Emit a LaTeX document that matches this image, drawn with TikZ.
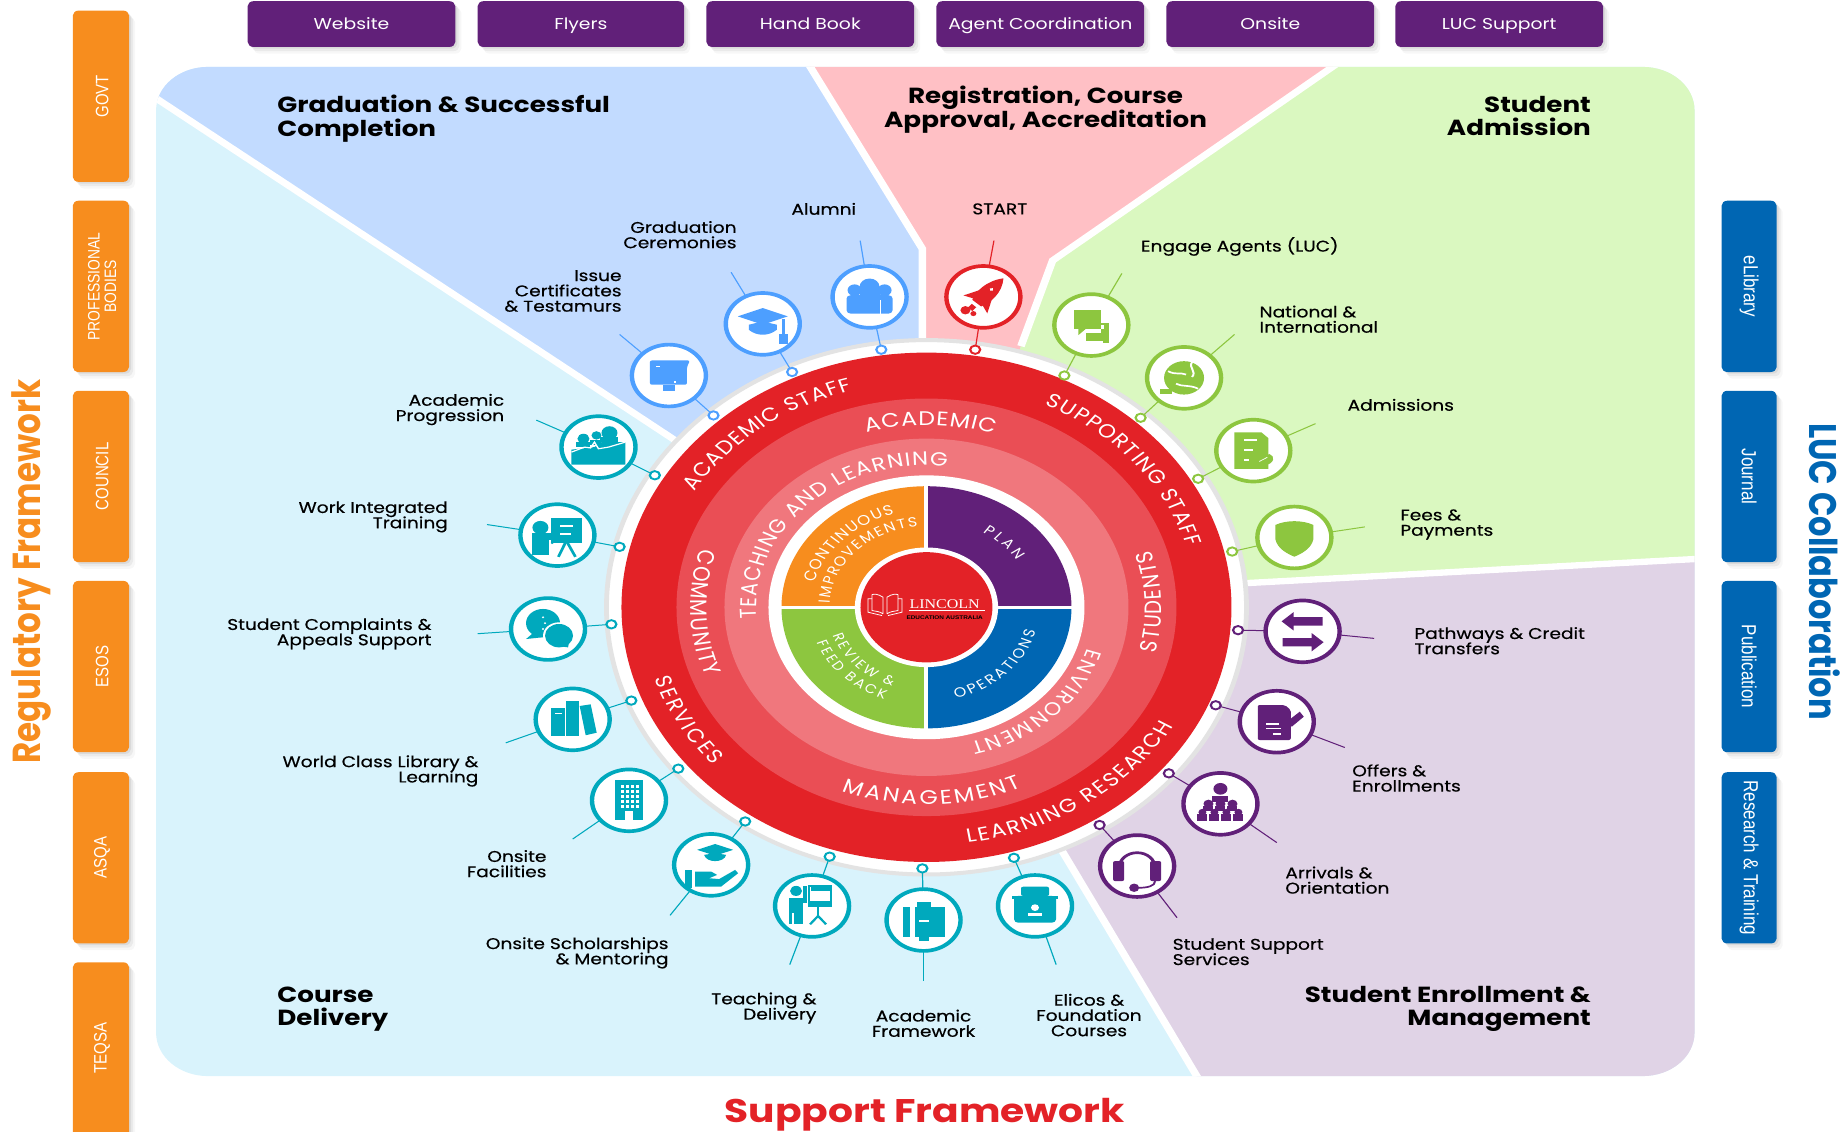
\documentclass[tikz,border=0pt]{standalone}
\usepackage{fontspec}
\setmainfont{Poppins}
\newfontfamily\labf[FakeBold=0.4]{Poppins}
\newfontfamily\boxf{Liberation Sans}
\newfontfamily\logof{Liberation Serif}
\usetikzlibrary{shadows,decorations.text}
\lineskiplimit=-100pt
\definecolor{cblue}{HTML}{4D9FFF}
\definecolor{cred}{HTML}{E32227}
\definecolor{cgreen}{HTML}{8DC63F}
\definecolor{cpurple}{HTML}{612079}
\definecolor{cteal}{HTML}{00A9BD}
\definecolor{corange}{HTML}{F78D1E}
\definecolor{cnavy}{HTML}{0066B3}
\definecolor{ringb}{HTML}{EA4E55}
\definecolor{ringc}{HTML}{F0777D}
\definecolor{ringgrey}{HTML}{E3E3E3}
\definecolor{pblue}{HTML}{C2DBFF}
\definecolor{ppink}{HTML}{FFC0C5}
\definecolor{pgreen}{HTML}{DAF8C0}
\definecolor{plav}{HTML}{E0D3E6}
\definecolor{pcyan}{HTML}{D9F3FC}
\newcommand\wf[1]{\color{white}\fontsize{#1}{#1}\selectfont}
\newcommand\wtext[5]{\path[decorate,decoration={text along path,text align={fit to path},text={|\wf{#4}|#5}}] (wc) ++(#2:#1pt) arc[start angle=#2,end angle=#3,radius=#1pt];}
\newcommand\ico[6]{%
  \node[pinnode,draw=#5] (#1p) at (#2) {};
  \node[icoring,draw=#5] (#1c) at (#3) {};
  \coordinate (#1t) at (#4);
  \draw[lk,draw=#5] (#1p) -- (#1c);
  \draw[lk,draw=#5] (#1c) -- (#1t);
  \def\icol{#5}%
  \begin{scope}[shift={(#1c)},x=0.5pt,y=0.5pt]#6\end{scope}%
}
\newcommand\boxn[6]{\path[#1] (#2,#3) rectangle (#4,#5) node[midway,text height=8pt,text depth=1.5pt] (b#2x#3) {#6};}
% glyphs
\newcommand\gCert{\fill[\icol,rounded corners=1pt] (-19,18)--(21,18)--(18,10)--(18,-11)--(-19,-11)--cycle;\fill[\icol] (-6,-11) rectangle (6,-18);\fill[white] (-13,12) rectangle (-9,10);\fill[white] (5,-6) rectangle (7,-9);}
\newcommand\gCap{\fill[\icol] (-25,9)--(0,19)--(25,9)--(0,-1)--cycle;\fill[\icol] (-14,-1)--(0,3)--(14,-1)--(14,-7) .. controls (6,-15) and (-6,-15) .. (-14,-7)--cycle;\fill[\icol] (19,6) rectangle (22,-12);\fill[\icol] (16,-12) rectangle (25,-24);}
\newcommand\gGroup{\fill[\icol] (0,12) circle (10);\fill[\icol] (-15,8) circle (7);\fill[\icol] (15,8) circle (7);\fill[\icol,rounded corners=2pt] (-23,-20)--(-23,2)--(23,2)--(23,-20)--cycle;\fill[\icol] (-10,0) rectangle (10,8);\draw[white,line width=.4pt] (11,-4)--(11,-20);}
\newcommand\gRocket{\begin{scope}[rotate=-42]\fill[\icol] (0,30) .. controls (11,16) and (10,0) .. (6,-10)--(-6,-10) .. controls (-10,0) and (-11,16) .. (0,30)--cycle;\fill[\icol] (-8,4)--(-16,-12)--(-6,-8)--cycle;\fill[\icol] (8,4)--(16,-12)--(6,-8)--cycle;\fill[\icol] (-3,-14) rectangle (3,-20);\fill[white] (0,12) circle (2);\end{scope}\fill[\icol] (-18,-16) circle (5);\fill[\icol] (-10,-20) circle (3);}
\newcommand\gChat{\fill[\icol] (-17,18) rectangle (10,-5);\fill[\icol] (-13,-5)--(-13,-12)--(-6,-5)--cycle;\fill[\icol] (-5,-9) rectangle (17,-19);\fill[\icol] (12,-4) rectangle (18,-22);\fill[\icol] (10,2)--(18,2)--(18,-9)--(10,-9)--cycle;\fill[white] (10,-5) rectangle (13,0);}
\newcommand\gGlobe{\fill[\icol] (0,0) circle (20);\draw[white,line width=1pt] (-16,8) .. controls (-8,3) and (-4,7) .. (2,4);\draw[white,line width=1pt] (8,19) .. controls (4,12) and (13,8) .. (8,1);\draw[white,line width=1pt] (-8,-7) .. controls (-2,-11) and (6,-8) .. (14,-13);\fill[\icol] (-24,-13) rectangle (-12,-19);}
\newcommand\gDoc{\fill[\icol] (-19,22)--(8,22)--(15,15)--(15,-22)--(-19,-22)--cycle;\fill[\icol] (10,-18) .. controls (22,-16) and (22,-6) .. (16,-4)--(8,-10)--cycle;\fill[white] (-9,14) rectangle (4,12);\fill[white] (-9,2) rectangle (0,0);\fill[white] (-9,-10) rectangle (-4,-12);\draw[white,line width=.4pt] (6,-13)--(14,-8);}
\newcommand\gShield{\fill[\icol] (-19,15) .. controls (-8,21) and (8,21) .. (19,15)--(19,-2) .. controls (17,-14) and (6,-20) .. (0,-23) .. controls (-6,-20) and (-17,-14) .. (-19,-2)--cycle;}
\newcommand\gArrows{\fill[\icol] (-21,12)--(-9,23)--(-9,17)--(20,17)--(20,7)--(-9,7)--(-9,1)--cycle;\fill[\icol] (21,-13)--(9,-2)--(9,-8)--(-20,-8)--(-20,-18)--(9,-18)--(9,-24)--cycle;}
\newcommand\gForm{\fill[\icol,rounded corners=1pt] (-19,20)--(8,20)--(14,14)--(14,-22)--(-19,-22)--cycle;\fill[\icol] (10,0)--(23,12)--(27,6)--(15,-6)--cycle;\fill[white] (-11,-2) rectangle (2,-4);\fill[white] (-11,-7) rectangle (4,-9);\fill[white] (-4,-14) rectangle (4,-16);}
\newcommand\gPyr{\fill[\icol] (0,18) circle (7);\fill[\icol] (-8,10) rectangle (8,2);\foreach \xx in {-12,0,12}{\fill[\icol] (\xx,0) circle (5);\fill[\icol] (\xx-5,-2) rectangle (\xx+5,-8);}\foreach \xx in {-18,-6,6,18}{\fill[\icol] (\xx,-10) circle (4);\fill[\icol] (\xx-5,-12) rectangle (\xx+5,-21);}}
\newcommand\gHead{\draw[\icol,line width=1.6pt] (-18,-2) arc[start angle=180,end angle=0,radius=18];\fill[\icol,rounded corners=1pt] (-24,-18) rectangle (-13,6);\fill[\icol,rounded corners=1pt] (13,-18) rectangle (24,6);\draw[\icol,line width=1pt] (18,-18) .. controls (18,-24) and (10,-26) .. (2,-26);\fill[\icol] (-3,-26) circle (5);}
\newcommand\gCase{\fill[\icol,rounded corners=2pt] (-21,12) rectangle (21,-20);\fill[\icol,rounded corners=1pt] (-14,23) rectangle (14,12);\fill[\icol] (-23,12) rectangle (23,8);\fill[white] (0,-2) circle (4);\fill[white] (-7,-12) rectangle (7,-8);}
\newcommand\gBook{\fill[\icol] (-21,16) rectangle (-14,-20);\fill[\icol] (-11,16) rectangle (21,-20);\fill[\icol] (-7,16) rectangle (7,22);\fill[white] (-5,0) rectangle (5,-2);\fill[\icol] (-5,-20) rectangle (5,-25);\fill[white] (-11,16) rectangle (-9,-20);}
\newcommand\gTeach{\fill[\icol] (-16,18) circle (6);\fill[\icol] (-23,10) rectangle (-9,-22);\fill[\icol] (-9,24) rectangle (-5,4);\draw[\icol,line width=.9pt] (-3,24) rectangle (19,0);\fill[\icol] (-1,24) rectangle (19,18);\fill[\icol] (-3,6) rectangle (19,0);\fill[white] (-20,-22) rectangle (-18,-8);\draw[\icol,line width=1.4pt] (6,0)--(6,-14);\draw[\icol,line width=1.2pt] (6,-12)--(-2,-22);\draw[\icol,line width=1.2pt] (6,-12)--(14,-22);}
\newcommand\gHand{\fill[\icol] (-14,18)--(4,25)--(22,18)--(4,11)--cycle;\fill[\icol] (-7,12) .. controls (-5,2) and (13,2) .. (15,12)--(4,14)--cycle;\fill[\icol] (-26,-6) rectangle (-19,-28);\fill[\icol] (-16,-8)--(0,-8)--(6,-12)--(-2,-16)--(8,-17)--(24,-6)--(27,-10)--(10,-26)--(-16,-26)--cycle;}
\newcommand\gBuild{\fill[\icol] (-14,24) rectangle (14,-24);\foreach \xx in {-8,-3,2,7}{\foreach \yy in {18,12,6,0,-6}{\fill[white] (\xx,\yy) rectangle (\xx+3,\yy-3);}}\fill[white] (-4,-24) rectangle (4,-13);}
\newcommand\gBooks{\fill[\icol] (-22,14) rectangle (-8,-20);\fill[white] (-18,8) rectangle (-11,6);\fill[\icol] (-7,22) rectangle (6,-20);\fill[\icol] (7,16)--(18,18)--(24,-16)--(13,-19)--cycle;}
\newcommand\gTalk{\fill[\icol] (-5,7) ellipse (17 and 17);\fill[\icol] (-22,-12)--(-12,-2)--(-6,-10)--cycle;\fill[white] (11,-8) circle (16);\fill[\icol] (11,-8) ellipse (14 and 14);\fill[\icol] (20,-22)--(8,-20)--(22,-10)--cycle;\fill[white] (-5,14) circle (1.2);\fill[white] (-3,7) circle (1.2);\fill[white] (-5,0) circle (1.2);}
\newcommand\gBoard{\fill[\icol] (-17,9) circle (8);\fill[\icol] (-25,3) rectangle (-8,-24);\fill[\icol] (-8,2) rectangle (3,-6);\fill[\icol] (-6,20) rectangle (25,-9);\fill[white] (3,12) rectangle (16,10);\fill[white] (3,2) rectangle (14,0);\draw[\icol,line width=1.4pt] (8,-9)--(1,-26);\draw[\icol,line width=1.4pt] (10,-9)--(18,-26);\draw[\icol,line width=1pt] (1,-4)--(-6,-10);}
\newcommand\gProg{\fill[\icol] (-15,10) circle (6);\fill[\icol] (-2,14) circle (5);\fill[\icol] (11,17) circle (8);\fill[\icol] (-22,6) rectangle (-8,0);\fill[\icol] (-8,9) rectangle (3,2);\fill[\icol] (2,12) rectangle (20,6);\fill[\icol] (-27,-3)--(-27,-21)--(27,-21)--(27,6)--(3,6)--(-4,0)--cycle;\draw[white,line width=.7pt] (-27,-6)--(-14,0)--(-8,-1)--(-4,6)--(0,-2)--(10,0)--(27,6);}
\tikzset{
  lk/.style={line width=.6pt},
  pinnode/.style={circle,fill=white,line width=1.1pt,minimum size=5pt,inner sep=0pt,outer sep=0pt},
  icoring/.style={circle,fill=white,line width=2.2pt,minimum size=37pt,inner sep=0pt,outer sep=0.8pt},
  lab/.style={font=\labf\fontsize{9.3}{9.15}\selectfont,text=black,inner sep=0pt},
  head/.style={font=\bfseries\fontsize{13.1}{14}\selectfont,text=black,inner sep=0pt},
  softbox/.style={rounded corners=3pt,
    drop shadow={shadow xshift=1pt,shadow yshift=-1pt,opacity=.07,fill=black},
    drop shadow={shadow xshift=2pt,shadow yshift=-2.5pt,opacity=.05,fill=black},
    drop shadow={shadow xshift=3pt,shadow yshift=-4pt,opacity=.03,fill=black}},
  topbox/.style={softbox,fill=cpurple,text=white,font=\fontsize{9.4}{10}\selectfont},
  sidebox/.style={softbox,fill=corange,text=white,font=\boxf\fontsize{9}{8.2}\selectfont},
  rightbox/.style={softbox,fill=cnavy,text=white,font=\boxf\fontsize{10.2}{8.2}\selectfont},
  divider/.style={white,line width=3.8pt,line join=miter},
}
\begin{document}
\begin{tikzpicture}
\useasboundingbox (0pt,0pt) rectangle (920pt,-565.5pt);
\begin{scope}[transform canvas={yscale=0.835},x=0.58675pt,y=-0.70269pt]
% panels
\begin{scope}
\clip[rounded corners=26pt] (133,57) rectangle (1444,917);
\fill[pcyan] (100,40) rectangle (1470,940);
\fill[pblue] (100,62)--(100,40)--(680,40)--(786,212)--(786,517)--(575,375)--cycle;
\fill[ppink] (680,40)--(1160,40)--(897,222)--(870,295)--(789,517)--(786,212)--cycle;
\fill[pgreen] (1160,40)--(1470,40)--(1470,475)--(1060,497)--(789,517)--(870,295)--(897,222)--cycle;
\fill[plav] (1470,475)--(1060,497)--(789,517)--(905,725)--(1030,934)--(1470,940)--cycle;
\draw[divider] (100,62)--(575,375);
\draw[divider] (680,40)--(786,212)--(786,320);
\draw[divider] (1160,40)--(897,222)--(870,295);
\draw[divider] (1470,475)--(1060,497);
\draw[divider] (905,725)--(1030,934);
\end{scope}
% top boxes
\boxn{topbox}{211}{1}{388}{40}{Website}
\boxn{topbox}{407}{1}{583}{40}{Flyers}
\boxn{topbox}{602}{1}{779}{40}{Hand Book}
\boxn{topbox}{798}{1}{975}{40}{Agent Coordination}
\boxn{topbox}{994}{1}{1171}{40}{Onsite}
\boxn{topbox}{1189}{1}{1366}{40}{LUC Support}
% side boxes
\path[sidebox] (62,9) rectangle (110,155);
\node[rotate=90,text=white,font=\boxf\fontsize{9}{8.2}\selectfont] (bgovt) at (87,82) {GOVT};
\path[sidebox] (62,171) rectangle (110,317);
\node[rotate=90,text=white,align=center,font=\boxf\fontsize{8.3}{8.2}\selectfont] (bprof) at (87,244) {PROFESSIONAL\\BODIES};
\path[sidebox] (62,333) rectangle (110,479);
\node[rotate=90,text=white,font=\boxf\fontsize{9}{8.2}\selectfont] (bcouncil) at (87,406) {COUNCIL};
\path[sidebox] (62,495) rectangle (110,641);
\node[rotate=90,text=white,font=\boxf\fontsize{9}{8.2}\selectfont] (besos) at (87,568) {ESOS};
\path[sidebox] (62,658) rectangle (110,804);
\node[rotate=90,text=white,font=\boxf\fontsize{9}{8.2}\selectfont] (basqa) at (87,731) {ASQA};
\path[sidebox] (62,820) rectangle (110,985);
\node[rotate=90,text=white,font=\boxf\fontsize{9}{8.2}\selectfont] (bteqsa) at (87,893) {TEQSA};
\path[rightbox] (1467,171) rectangle (1514,317) node[midway,rotate=-90] (brlib) {eLibrary};
\path[rightbox] (1467,333) rectangle (1514,479) node[midway,rotate=-90] (brjournal) {Journal};
\path[rightbox] (1467,495) rectangle (1514,641) node[midway,rotate=-90] (brpub) {Publication};
\path[rightbox] (1467,658) rectangle (1514,804) node[midway,rotate=-90] (brres) {Research \& Training};
% frame titles
\node[rotate=90,text=corange,font=\bfseries\fontsize{19.5}{20}\selectfont] (treg) at (27,487) {Regulatory Framework};
\node[rotate=-90,text=cnavy,font=\bfseries\fontsize{19.2}{20}\selectfont] (tluc) at (1555,487) {LUC Collaboration};
\node[text=cred,font=\bfseries\fontsize{19.6}{20}\selectfont] (tsup) at (788,950) {Support Framework};
% headings
\node[head,anchor=west,align=left] (h1) at (236,101) {Graduation \& Successful\\Completion};
\node[head,align=center] (h2) at (891,93.5) {Registration, Course\\Approval, Accreditation};
\node[head,anchor=east,align=right] (h3) at (1356,99) {Student\\Admission};
\node[head,anchor=west,align=left] (h4) at (236,860) {Course\\Delivery};
\node[head,anchor=east,align=right] (h5) at (1356,860) {Student Enrollment \&\\Management};
% wheel
\coordinate (wc) at (789.5,517.5);
\draw[ringgrey,fill=white,line width=2.4pt] (wc) circle (160pt);
\fill[cred] (wc) circle (152.5pt);
\fill[ringb] (wc) circle (125pt);
\fill[ringc] (wc) circle (101pt);
\fill[white] (wc) circle (79pt);
\fill[corange] (wc) -- ++(180:72.5pt) arc[start angle=180,end angle=90,radius=72.5pt] -- cycle;
\fill[cpurple] (wc) -- ++(90:72.5pt) arc[start angle=90,end angle=0,radius=72.5pt] -- cycle;
\fill[cnavy] (wc) -- ++(0:72.5pt) arc[start angle=0,end angle=-90,radius=72.5pt] -- cycle;
\fill[cgreen] (wc) -- ++(-90:72.5pt) arc[start angle=-90,end angle=-180,radius=72.5pt] -- cycle;
\draw[white,line width=2pt] (wc) ++(-74pt,0pt) -- ++(148pt,0pt);
\draw[white,line width=2pt] (wc) ++(0pt,-74pt) -- ++(0pt,148pt);
\fill[white] (wc) circle (35.8pt);
\fill[cred] (wc) circle (33pt);
% wheel text
\wtext{135}{149}{106}{11.4}{ACADEMIC STAFF}
\wtext{135}{64}{15.7}{11.4}{SUPPORTING STAFF}
\wtext{142.5}{-81.7}{-30}{11.4}{LEARNING RESEARCH}
\wtext{142.5}{197.5}{221.6}{11.4}{SERVICES}
\wtext{109}{106}{72}{11.8}{ACADEMIC}
\wtext{117.5}{-13.5}{17}{11.8}{STUDENTS}
\wtext{118}{249}{294}{11.8}{MANAGEMENT}
\wtext{118}{162.8}{200.6}{11.8}{COMMUNITY}
\wtext{84}{-17}{-75}{11}{ENVIRONMENT}
\wtext{85}{184.5}{83}{11.4}{TEACHING AND LEARNING}
\wtext{58}{165.5}{106}{8.4}{CONTINUOUS}
\wtext{48.5}{177}{95}{8}{IMPROVEMENTS}
\wtext{53}{58}{32}{8}{PLAN}
\wtext{56.5}{-75}{-14.5}{8}{OPERATIONS}
\wtext{50}{200}{250}{7.6}{REVIEW {\&}}
\wtext{59}{201}{249}{7.6}{FEED BACK}
% logo
\node[text=white,inner sep=0pt,font=\logof\fontsize{8}{8}\selectfont] (logoname) at (805,515) {LINCOLN};
\node[text=black,inner sep=0pt,font=\boxf\bfseries\fontsize{3.2}{3}\selectfont] (logosub) at (805,526) {EDUCATION AUSTRALIA};
\draw[white,line width=.3pt] (logoname.south west) ++(0pt,-.6pt) -- ++(38pt,0pt);
\coordinate (logobook) at (755,516);
\begin{scope}[shift={(logobook)},x=0.5pt,y=0.5pt,white,line width=.45pt]
\draw (-3,-10)--(-3,10) .. controls (-8,14) and (-12,14) .. (-14,13)--(-14,-6) .. controls (-10,-7) and (-6,-7) .. (-3,-10);
\draw (1,-10)--(1,10) .. controls (6,14) and (10,14) .. (12,13)--(12,-6) .. controls (8,-7) and (4,-7) .. (1,-10);
\draw (-14,8)--(-18,8)--(-18,-8)--(-4,-12);
\draw (12,8)--(16,8)--(16,-8)--(2,-12);
\end{scope}
% icons
\ico{iss}{608,354}{570,320}{528,285}{cblue}{\gCert}
\ico{gra}{675,317}{650,276}{623,232}{cblue}{\gCap}
\ico{alu}{751,298}{741,253}{733,205}{cblue}{\gGroup}
\ico{sta}{831,298}{838,253}{847,205}{cred}{\gRocket}
\ico{eng}{907,320}{930,277}{956,233}{cgreen}{\gChat}
\ico{nat}{972,356}{1009,322}{1052,285}{cgreen}{\gGlobe}
\ico{adm}{1021,408}{1068,384}{1121,361}{cgreen}{\gDoc}
\ico{fee}{1050,470}{1103,458}{1163,449}{cgreen}{\gShield}
\ico{pat}{1055,537}{1110,538}{1171,544}{cpurple}{\gArrows}
\ico{off}{1036,601}{1088,615}{1146,637}{cpurple}{\gForm}
\ico{arr}{996,659}{1040,685}{1088,718}{cpurple}{\gPyr}
\ico{sup}{937,703}{969,738}{1003,782}{cpurple}{\gHead}
\ico{eli}{864,731}{882,772}{900,822}{cteal}{\gCase}
\ico{aca}{786,740}{787,784}{787,836}{cteal}{\gBook}
\ico{tea}{707,730}{692,772}{673,822}{cteal}{\gTeach}
\ico{sch}{635,700}{606,737}{571,780}{cteal}{\gHand}
\ico{fac}{578,655}{536,682}{488,715}{cteal}{\gBuild}
\ico{lib}{538,597}{488,613}{431,633}{cteal}{\gBooks}
\ico{com}{521,532}{467,536}{407,540}{cteal}{\gTalk}
\ico{wor}{528,466}{475,456}{415,447}{cteal}{\gBoard}
\ico{pro}{558,405}{510,381}{457,358}{cteal}{\gProg}
% labels
\node[lab] (lsta) at (852,178) {START};
\node[lab] (lalu) at (702,178) {Alumni};
\node[lab,anchor=east,align=right] (lgra) at (628,200) {Graduation\\Ceremonies};
\node[lab,anchor=east,align=right] (liss) at (530,248) {Issue\\Certificates\\\& Testamurs};
\node[lab,anchor=east,align=right] (lpro) at (430,349) {Academic\\Progression};
\node[lab,anchor=east,align=right] (lwor) at (382,440.5) {Work Integrated\\Training};
\node[lab,anchor=east,align=right] (lcom) at (368,540) {Student Complaints \&\\Appeals Support};
\node[lab,anchor=east,align=right] (llib) at (408,657) {World Class Library \&\\Learning};
\node[lab,anchor=east,align=right] (lfac) at (466,736) {Onsite\\Facilities};
\node[lab,anchor=east,align=right] (lsch) at (570,812) {Onsite Scholarships\\\& Mentoring};
\node[lab,anchor=east,align=right] (ltea) at (696,859) {Teaching \&\\Delivery};
\node[lab,align=center] (laca) at (787,872) {Academic\\Framework};
\node[lab,align=center] (leli) at (928,865) {Elicos \&\\Foundation\\Courses};
\node[lab,anchor=west] (leng) at (972,210) {Engage Agents (LUC)};
\node[lab,anchor=west,align=left] (lnat) at (1073,272) {National \&\\International};
\node[lab,anchor=west] (ladm) at (1148,345) {Admissions};
\node[lab,anchor=west,align=left] (lfee) at (1193,447) {Fees \&\\Payments};
\node[lab,anchor=west,align=left] (lpat) at (1205,546) {Pathways \& Credit\\Transfers};
\node[lab,anchor=west,align=left] (loff) at (1152,663) {Offers \&\\Enrollments};
\node[lab,anchor=west,align=left] (larr) at (1095,750) {Arrivals \&\\Orientation};
\node[lab,anchor=west,align=left] (lsup) at (999,811) {Student Support\\Services};
\end{scope}
\end{tikzpicture}
\end{document}
